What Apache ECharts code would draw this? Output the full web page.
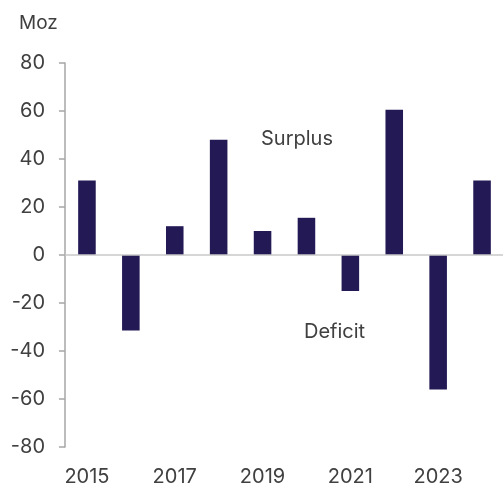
<!DOCTYPE html>
<html>
<head>
<meta charset="utf-8">
<script src="https://cdn.jsdelivr.net/npm/echarts@6/dist/echarts.min.js"></script>
<style>
  html, body { margin: 0; padding: 0; background: #ffffff; }
  #chart { width: 503px; height: 483px; }
</style>
</head>
<body>
<div id="chart"></div>
<script>
// Annual market balance, million ounces
const years = ['2015', '2016', '2017', '2018', '2019', '2020', '2021', '2022', '2023', '2024'];
const balance = [31, -31.5, 12, 48, 10, 15.5, -15, 60.5, -56, 31];
const yTicks = { min: -80, max: 80, interval: 20 };
const unitLabel = 'Moz';
const surplusLabel = 'Surplus';
const deficitLabel = 'Deficit';

const textColor = '#404040';
const fontFamily = 'Inter, "Liberation Sans", Arial, sans-serif';

const chart = echarts.init(document.getElementById('chart'), null, { renderer: 'canvas' });

chart.setOption({
  animation: false,
  backgroundColor: '#ffffff',
  grid: {
    left: 65, top: 63, bottom: 36, width: 439,
    containLabel: false,
    outerBoundsMode: 'none'
  },
  xAxis: {
    type: 'category',
    data: years,
    position: 'bottom',
    axisLine: { show: false, onZero: false },
    axisTick: { show: false },
    axisLabel: {
      interval: 1,
      margin: 20,
      color: textColor,
      fontSize: 20,
      fontFamily: fontFamily
    }
  },
  yAxis: {
    type: 'value',
    min: yTicks.min,
    max: yTicks.max,
    interval: yTicks.interval,
    axisLine: { show: true, lineStyle: { color: '#a6a6a6', width: 1.5 } },
    axisTick: { show: true, length: 6, lineStyle: { color: '#a6a6a6', width: 1.5 } },
    splitLine: { show: false },
    axisLabel: {
      margin: 20,
      color: textColor,
      fontSize: 20,
      fontFamily: fontFamily
    }
  },
  series: [{
    type: 'bar',
    data: balance,
    barWidth: '40%',
    itemStyle: { color: '#221955' },
    markLine: {
      silent: true,
      symbol: 'none',
      label: { show: false },
      lineStyle: { color: '#c8c8c8', type: 'solid', width: 1.5 },
      data: [{ yAxis: 0 }]
    }
  }],
  graphic: [
    {
      type: 'text', left: 19, top: 14,
      style: { text: unitLabel, fill: textColor, fontSize: 19, fontFamily: fontFamily }
    },
    {
      type: 'text', left: 261, top: 129,
      style: { text: surplusLabel, fill: textColor, fontSize: 20, fontFamily: fontFamily }
    },
    {
      type: 'text', left: 304, top: 322,
      style: { text: deficitLabel, fill: textColor, fontSize: 20, fontFamily: fontFamily }
    }
  ]
});
</script>
</body>
</html>
